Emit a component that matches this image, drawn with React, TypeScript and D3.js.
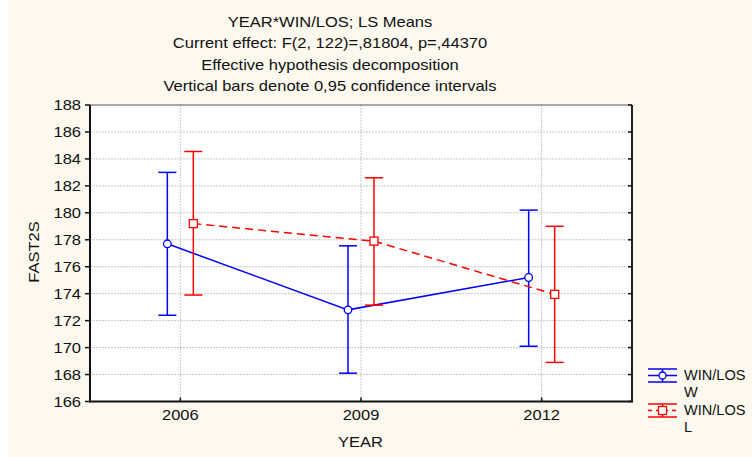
import React from 'react';
import * as d3 from 'd3';

// LS means of FAST2S by year, split by WIN/LOS
const years = ['2006', '2009', '2012'];
const winMean = [177.7, 172.8, 175.2];
const winLow = [172.4, 168.1, 170.1];
const winHigh = [183.0, 177.55, 180.2];
const losMean = [179.2, 177.9, 173.95];
const losLow = [173.9, 173.15, 168.9];
const losHigh = [184.55, 182.6, 179.0];
const yTicks = [166, 168, 170, 172, 174, 176, 178, 180, 182, 184, 186, 188];

const titleLines = [
  'YEAR*WIN/LOS; LS Means',
  'Current effect: F(2, 122)=,81804, p=,44370',
  'Effective hypothesis decomposition',
  'Vertical bars denote 0,95 confidence intervals',
];

const W = 752;
const H = 457;
const margin = { top: 105, right: 120, bottom: 55.5, left: 90 };
const FONT = '"Liberation Sans", Arial, sans-serif';
const BLUE = '#0000ff';
const RED = '#ff0000';

// STATISTICA text looks horizontally stretched
const Txt = ({ x, y, anchor = 'middle', rotate = 0, stretch = 1.18, children }: any) => (
  <text
    transform={`translate(${x},${y}) rotate(${rotate}) scale(${stretch},1)`}
    textAnchor={anchor}
    fontFamily={FONT}
    fontSize={14}
    fill="#111"
  >
    {children}
  </text>
);

const Series = ({ mean, low, high, dx, color, dashed, square, x, y }: any) => {
  const line = d3.line<number>()
    .x((_, i) => (x(years[i]) as number) + dx)
    .y(d => y(d));
  return (
    <g>
      <path d={line(mean) || ''} fill="none" stroke={color} strokeWidth={1.5}
        strokeDasharray={dashed ? '8,5' : undefined} />
      {mean.map((m: number, i: number) => {
        const cx = (x(years[i]) as number) + dx;
        return (
          <g key={i}>
            <line x1={cx} x2={cx} y1={y(low[i])} y2={y(high[i])} stroke={color} strokeWidth={1.5} />
            <line x1={cx - 9} x2={cx + 9} y1={y(low[i])} y2={y(low[i])} stroke={color} strokeWidth={1.5} />
            <line x1={cx - 9} x2={cx + 9} y1={y(high[i])} y2={y(high[i])} stroke={color} strokeWidth={1.5} />
            {square
              ? <rect x={cx - 4} y={y(m) - 4} width={8} height={8} fill="#fff" stroke={color} strokeWidth={1.3} />
              : <circle cx={cx} cy={y(m)} r={3.8} fill="#fff" stroke={color} strokeWidth={1.3} />}
          </g>
        );
      })}
    </g>
  );
};

const LegendItem = ({ cy, color, dashed, square, label1, label2, textY }: any) => {
  const x0 = 648, x1 = 677, cx = 662.5;
  return (
    <g>
      <line x1={x0} x2={x1} y1={cy - 6.5} y2={cy - 6.5} stroke={color} strokeWidth={1.5} />
      <line x1={x0} x2={x1} y1={cy + 6.5} y2={cy + 6.5} stroke={color} strokeWidth={1.5} />
      <line x1={cx} x2={cx} y1={cy - 6.5} y2={cy + 6.5} stroke={color} strokeWidth={1.5} />
      <line x1={x0} x2={x1} y1={cy} y2={cy} stroke={color} strokeWidth={1.5}
        strokeDasharray={dashed ? '4,4' : undefined} />
      {square
        ? <rect x={cx - 4} y={cy - 4} width={8} height={8} fill="#fff" stroke={color} strokeWidth={1.3} />
        : <circle cx={cx} cy={cy} r={3.5} fill="#fff" stroke={color} strokeWidth={1.3} />}
      <Txt x={684} y={textY} anchor="start" stretch={1.04}>{label1}</Txt>
      <Txt x={684} y={textY + 17} anchor="start" stretch={1.04}>{label2}</Txt>
    </g>
  );
};

export default function App() {
  const innerW = W - margin.left - margin.right;
  const x = d3.scalePoint<string>().domain(years).range([margin.left, margin.left + innerW]).padding(0.5);
  const y = d3.scaleLinear().domain([166, 188]).range([H - margin.bottom, margin.top]);
  const left = margin.left;
  const right = margin.left + innerW;
  const top = margin.top;
  const bottom = H - margin.bottom;

  return (
    <svg width={W} height={H} style={{ position: 'absolute', left: 0, top: 0 }}>
      <rect x={0} y={0} width={W} height={H} fill="#fff" />
      <rect x={8} y={0} width={W - 8} height={H} fill="#fdf9ef" />
      <rect x={left} y={top} width={right - left} height={bottom - top} fill="#fff" />

      {titleLines.map((t, i) => (
        <Txt key={i} x={330} y={27 + i * 21.3}>{t}</Txt>
      ))}

      {/* grid */}
      {yTicks.slice(1, -1).map(t => (
        <line key={t} x1={left} x2={right} y1={y(t)} y2={y(t)} stroke="#c8c8c8" strokeDasharray="2,1" />
      ))}
      {years.map(c => (
        <line key={c} x1={x(c)} x2={x(c)} y1={top} y2={bottom} stroke="#c8c8c8" strokeDasharray="2,1" />
      ))}

      {/* axes */}
      <line x1={left} x2={right} y1={top} y2={top} stroke="#555" strokeWidth={1.2} />
      <line x1={right} x2={right} y1={top} y2={bottom} stroke="#222" strokeWidth={2} />
      <line x1={left} x2={left} y1={top} y2={bottom + 1} stroke="#111" strokeWidth={2} />
      <line x1={left - 1} x2={right + 1} y1={bottom} y2={bottom} stroke="#111" strokeWidth={2} />
      {yTicks.map(t => (
        <g key={t}>
          <line x1={left - 5} x2={left} y1={y(t)} y2={y(t)} stroke="#111" strokeWidth={1.5} />
          <line x1={right - 4} x2={right} y1={y(t)} y2={y(t)} stroke="#111" strokeWidth={1.5} />
          <Txt x={81} y={y(t) + 5} anchor="end">{t}</Txt>
        </g>
      ))}
      {years.map(c => (
        <g key={c}>
          <line x1={x(c)} x2={x(c)} y1={bottom - 4} y2={bottom} stroke="#111" strokeWidth={1.5} />
          <Txt x={x(c)} y={420}>{c}</Txt>
        </g>
      ))}
      <Txt x={360.5} y={446.5}>YEAR</Txt>
      <Txt x={38.5} y={252} rotate={-90}>FAST2S</Txt>

      <Series mean={winMean} low={winLow} high={winHigh} dx={-13} color={BLUE} x={x} y={y} />
      <Series mean={losMean} low={losLow} high={losHigh} dx={13} color={RED} dashed square x={x} y={y} />

      <LegendItem cy={375.5} color={BLUE} label1="WIN/LOS" label2="W" textY={380} />
      <LegendItem cy={410.5} color={RED} dashed square label1="WIN/LOS" label2="L" textY={415} />
    </svg>
  );
}
